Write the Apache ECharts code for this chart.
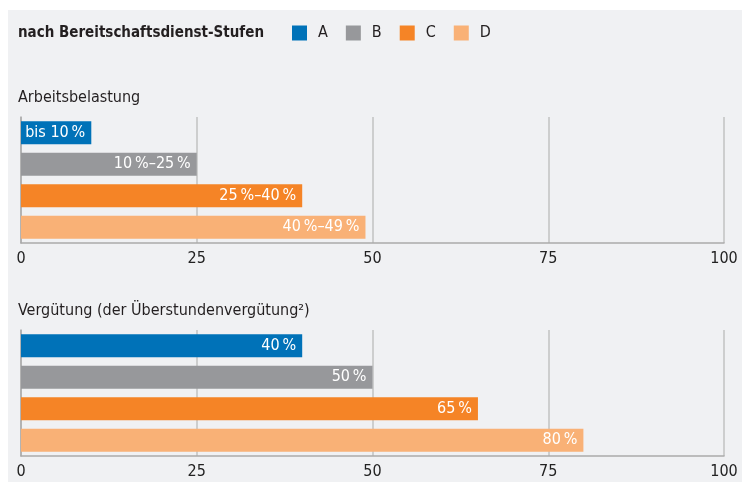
<!DOCTYPE html>
<html>
<head>
<meta charset="utf-8">
<script src="https://cdn.jsdelivr.net/npm/echarts@6/dist/echarts.min.js"></script>
<style>
	html, body { margin: 0; padding: 0; background: #fff; }
	#chart { width: 742px; height: 482px; }
</style>
</head>
<body>
<div id="chart"></div>
<script>
var FONT = "'Liberation Sans Narrow', 'DejaVu Sans Condensed', sans-serif";

// Stufen und Farben
var stages = ['A', 'B', 'C', 'D'];
var stageColors = ['#0072b8', '#97989b', '#f58426', '#f9b176'];

// Arbeitsbelastung
var workload = [10, 25, 40, 49];
var workloadLabels = ['bis 10\u2009%', '10\u2009%\u201325\u2009%', '25\u2009%\u201340\u2009%', '40\u2009%\u201349\u2009%'];

// Vergütung
var pay = [40, 50, 65, 80];
var payLabels = ['40\u2009%', '50\u2009%', '65\u2009%', '80\u2009%'];

var xTicks = [0, 25, 50, 75, 100];

function makeSeries(values, labels, gridIdx) {
	var list = [];
	for (var i = 0; i < stages.length; i++) {
		var data = [];
		for (var j = 0; j < stages.length; j++) {
			data.push(j === i ? values[j] : '-');
		}
		(function(idx) {
			list.push({
				name: stages[idx],
				type: 'bar',
				xAxisIndex: gridIdx,
				yAxisIndex: gridIdx,
				barWidth: 23,
				barGap: '-100%',
				itemStyle: { color: stageColors[idx] },
				label: {
					show: true,
					position: 'insideRight',
					distance: 6,
					color: '#fff',
					fontFamily: FONT,
					fontSize: 16,
					formatter: function() { return labels[idx]; }
				},
				data: data
			});
		})(i);
	}
	return list;
}

function xAxisCfg(gridIdx) {
	return {
		type: 'value',
		gridIndex: gridIdx,
		min: xTicks[0],
		max: xTicks[xTicks.length - 1],
		interval: 25,
		axisTick: { show: false },
		axisLine: { show: true, lineStyle: { color: '#aaaaaa', width: 1.5 } },
		splitLine: { show: true, lineStyle: { color: '#c2c2c2', width: 1.5 } },
		axisLabel: { color: '#222', fontFamily: FONT, fontSize: 16, margin: 8 }
	};
}

function yAxisCfg(gridIdx) {
	return {
		type: 'category',
		gridIndex: gridIdx,
		inverse: true,
		data: stages,
		axisTick: { show: false },
		axisLabel: { show: false },
		axisLine: { show: true, lineStyle: { color: '#aaaaaa', width: 1.5 } }
	};
}

var myChart = echarts.init(document.getElementById('chart'));
var option = {
	animation: false,
	backgroundColor: '#ffffff',
	graphic: [{
		type: 'rect',
		z: -10,
		shape: { x: 8, y: 10, width: 734, height: 472 },
		style: { fill: '#f0f1f3' }
	}],
	title: [{
		text: 'nach Bereitschaftsdienst-Stufen',
		left: 13, top: 21,
		textStyle: { fontFamily: FONT, fontSize: 15, fontWeight: 'bold', color: '#231f20' }
	}, {
		text: 'Arbeitsbelastung',
		left: 13, top: 85,
		textStyle: { fontFamily: FONT, fontSize: 16, fontWeight: 'normal', color: '#231f20' }
	}, {
		text: 'Vergütung (der Überstundenvergütung\u00b2)',
		left: 13, top: 298,
		textStyle: { fontFamily: FONT, fontSize: 16, fontWeight: 'normal', color: '#231f20' }
	}],
	legend: {
		left: 287,
		top: 20,
		icon: 'rect',
		itemWidth: 15,
		itemHeight: 15,
		itemGap: 18,
		data: stages,
		textStyle: { fontFamily: FONT, fontSize: 16, color: '#231f20', padding: [0, 0, 0, 6] }
	},
	grid: [
		{ left: 21, right: 18, top: 117, height: 126 },
		{ left: 21, right: 18, top: 330, height: 126 }
	],
	xAxis: [xAxisCfg(0), xAxisCfg(1)],
	yAxis: [yAxisCfg(0), yAxisCfg(1)],
	series: makeSeries(workload, workloadLabels, 0).concat(makeSeries(pay, payLabels, 1))
};
myChart.setOption(option);
</script>
</body>
</html>
